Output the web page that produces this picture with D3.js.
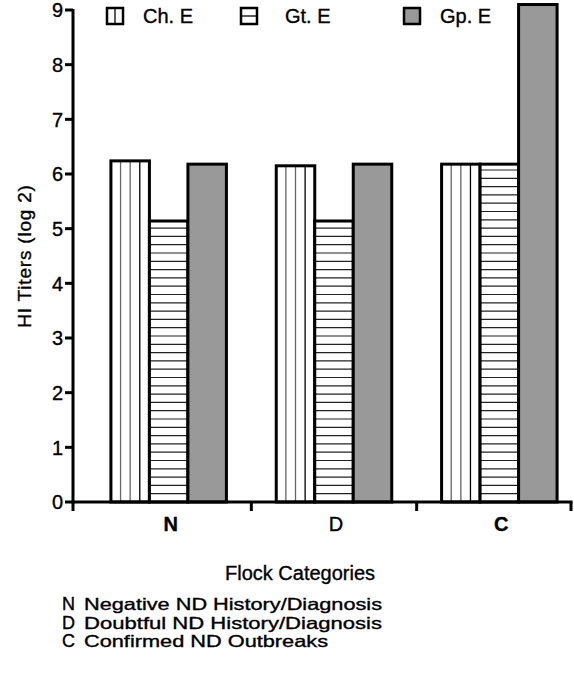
<!DOCTYPE html>
<html>
<head>
<meta charset="utf-8">
<script src="https://cdn.jsdelivr.net/npm/d3@7"></script>
<style>
  html, body { margin: 0; padding: 0; background: #fff; }
  svg { display: block; font-family: "Liberation Sans", Arial, sans-serif; }
  text { fill: #000; stroke: #000; stroke-width: 0.35px; }
</style>
</head>
<body>
<svg id="chart" width="574" height="674"></svg>
<script>
(function () {
  'use strict';

  const CATEGORIES = ['N', 'D', 'C'];
  const SERIES = ['Ch. E', 'Gt. E', 'Gp. E'];
  const CH_E = [6.24, 6.15, 6.18];
  const GT_E = [5.14, 5.14, 6.18];
  const GP_E = [6.18, 6.18, 9.1];
  const Y_TICKS = [0, 1, 2, 3, 4, 5, 6, 7, 8, 9];
  const FOOTNOTES = [
    ['N', 'Negative ND History/Diagnosis'],
    ['D', 'Doubtful ND History/Diagnosis'],
    ['C', 'Confirmed ND Outbreaks']
  ];

  const values = [CH_E, GT_E, GP_E];
  const rows = CATEGORIES.map((c, i) => ({
    cat: c,
    bars: SERIES.map((s, j) => ({ series: s, idx: j, value: values[j][i] }))
  }));

  const svg = d3.select('#chart');
  const axisX0 = 73, axisX1 = 571;

  const x = d3.scaleBand().domain(CATEGORIES).range([86, 582]);
  const groupW = 115.5;
  const xi = d3.scaleBand().domain(SERIES).range([0, groupW]);
  const y = d3.scaleLinear().domain([0, 9]).range([502, 10]);

  // bars
  const groups = svg.append('g').selectAll('g.grp')
    .data(rows)
    .join('g')
    .attr('class', 'grp')
    .attr('transform', d => `translate(${x(d.cat) + (x.bandwidth() - groupW) / 2},0)`);

  const bars = groups.selectAll('g.bar')
    .data(d => d.bars)
    .join('g')
    .attr('class', 'bar');

  bars.append('rect')
    .attr('x', d => xi(d.series))
    .attr('y', d => y(d.value))
    .attr('width', xi.bandwidth())
    .attr('height', d => y(0) - y(d.value))
    .attr('fill', d => d.idx === 2 ? '#999999' : '#fff');

  // vertical hatch for Ch. E
  bars.filter(d => d.idx === 0).each(function (d) {
    const g = d3.select(this);
    const x0 = xi(d.series), w = xi.bandwidth();
    [0.25, 0.5, 0.75].forEach((f, k) => {
      g.append('line')
        .attr('x1', x0 + w * f).attr('x2', x0 + w * f)
        .attr('y1', y(d.value)).attr('y2', y(0))
        .attr('stroke', k === 2 ? '#000' : '#666').attr('stroke-width', 1.3);
    });
  });

  // horizontal hatch for Gt. E
  bars.filter(d => d.idx === 1).each(function (d) {
    const g = d3.select(this);
    const x0 = xi(d.series), w = xi.bandwidth();
    const step = 8.3;
    for (let yy = y(0) - step; yy > y(d.value) + 3; yy -= step) {
      g.append('line')
        .attr('x1', x0).attr('x2', x0 + w)
        .attr('y1', yy).attr('y2', yy)
        .attr('stroke', '#222').attr('stroke-width', 1.2);
    }
  });

  bars.append('rect')
    .attr('x', d => xi(d.series))
    .attr('y', d => y(d.value))
    .attr('width', xi.bandwidth())
    .attr('height', d => y(0) - y(d.value))
    .attr('fill', 'none')
    .attr('stroke', '#000')
    .attr('stroke-width', 3);

  // y axis
  const yAxis = svg.append('g');
  yAxis.append('line')
    .attr('x1', axisX0).attr('x2', axisX0)
    .attr('y1', y(9) - 1).attr('y2', y(0) + 1.5)
    .attr('stroke', '#000').attr('stroke-width', 3);
  yAxis.selectAll('line.tick')
    .data(Y_TICKS).join('line')
    .attr('class', 'tick')
    .attr('x1', axisX0 - 8).attr('x2', axisX0)
    .attr('y1', d => y(d)).attr('y2', d => y(d))
    .attr('stroke', '#000').attr('stroke-width', 3);
  yAxis.selectAll('text')
    .data(Y_TICKS).join('text')
    .attr('x', 63).attr('y', d => y(d))
    .attr('dy', '0.36em')
    .attr('text-anchor', 'end')
    .attr('font-size', 20)
    .text(d => d);

  svg.append('text')
    .attr('transform', `translate(31,${(y(0) + y(9)) / 2}) rotate(-90)`)
    .attr('text-anchor', 'middle')
    .attr('font-size', 19)
    .attr('letter-spacing', 0.8)
    .text('HI Titers (log 2)');

  // x axis
  const xAxis = svg.append('g');
  xAxis.append('line')
    .attr('x1', axisX0).attr('x2', axisX1 + 1.5)
    .attr('y1', y(0)).attr('y2', y(0))
    .attr('stroke', '#000').attr('stroke-width', 3);
  const xTicks = [axisX0, x('D'), x('C'), axisX1];
  xAxis.selectAll('line.tick')
    .data(xTicks).join('line')
    .attr('class', 'tick')
    .attr('x1', d => d).attr('x2', d => d)
    .attr('y1', y(0)).attr('y2', y(0) + 9)
    .attr('stroke', '#000').attr('stroke-width', 3);
  xAxis.selectAll('text')
    .data(CATEGORIES).join('text')
    .attr('x', d => x(d) + x.bandwidth() / 2 + 2)
    .attr('y', 531)
    .attr('text-anchor', 'middle')
    .attr('font-size', 20)
    .attr('font-weight', d => d === 'D' ? 'normal' : 'bold')
    .text(d => d);

  svg.append('text')
    .attr('x', 300).attr('y', 580)
    .attr('text-anchor', 'middle')
    .attr('font-size', 20)
    .text('Flock Categories');

  // footnotes
  const fnLen = [298, 298, 244];
  const fn = svg.append('g').attr('font-size', 16.5);
  FOOTNOTES.forEach((f, i) => {
    const yy = 610 + i * 18.5;
    fn.append('text').attr('x', 62).attr('y', yy)
      .attr('font-size', 18).text(f[0]);
    fn.append('text').attr('x', 84).attr('y', yy)
      .attr('textLength', fnLen[i]).attr('lengthAdjust', 'spacingAndGlyphs')
      .text(f[1]);
  });

  // legend
  const legX = [107, 241, 404];
  const legTx = [36, 44, 36];
  const leg = svg.append('g');
  SERIES.forEach((s, i) => {
    const g = leg.append('g').attr('transform', `translate(${legX[i]},8)`);
    const sz = 16;
    g.append('rect').attr('width', sz).attr('height', sz)
      .attr('fill', i === 2 ? '#999999' : '#fff')
      .attr('stroke', '#000').attr('stroke-width', 2.5);
    if (i === 0) g.append('line').attr('x1', sz / 2).attr('x2', sz / 2).attr('y1', 0).attr('y2', sz).attr('stroke', '#000').attr('stroke-width', 1.3);
    if (i === 1) g.append('line').attr('x1', 0).attr('x2', sz).attr('y1', sz / 2).attr('y2', sz / 2).attr('stroke', '#000').attr('stroke-width', 1.3);
    g.append('text').attr('x', legTx[i]).attr('y', sz / 2).attr('dy', '0.36em')
      .attr('font-size', 20).text(s);
  });
})();
</script>
</body>
</html>
